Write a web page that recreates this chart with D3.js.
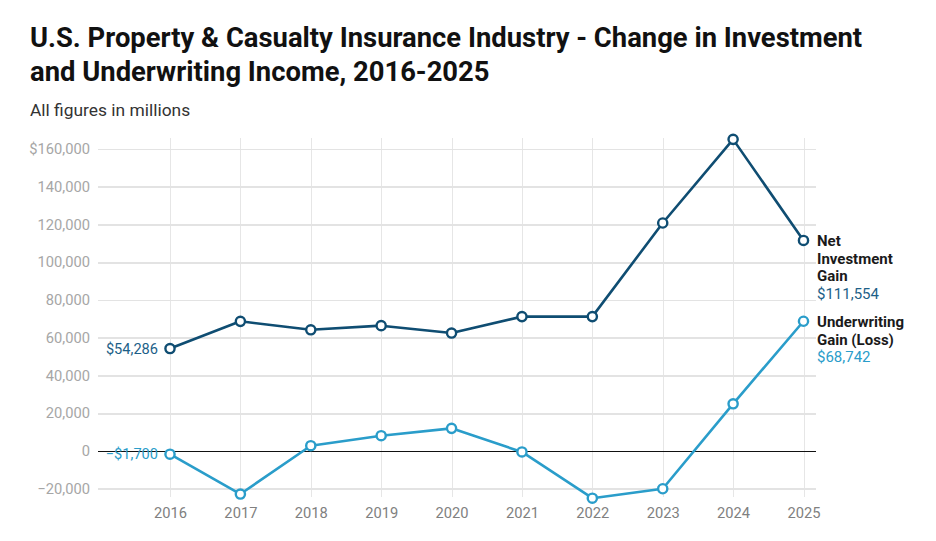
<!DOCTYPE html>
<html>
<head>
<meta charset="utf-8">
<script src="https://cdn.jsdelivr.net/npm/d3@7"></script>
<style>
  body { margin: 0; background: #fff; font-family: Roboto, sans-serif; }
  .grid line { shape-rendering: crispEdges; }
</style>
</head>
<body>
<div id="chart"></div>
<script>
// Chart data (millions of dollars)
var years = [2016, 2017, 2018, 2019, 2020, 2021, 2022, 2023, 2024, 2025];
var netInvestment = [54286, 68700, 64200, 66400, 62500, 71200, 71200, 120800, 165100, 111554];
var underwriting = [-1700, -22800, 2800, 8100, 12000, -500, -25000, -20000, 25000, 68742];
var yTicks = [-20000, 0, 20000, 40000, 60000, 80000, 100000, 120000, 140000, 160000];
var seriesNames = [["Net", "Investment", "Gain"], ["Underwriting", "Gain (Loss)"]];

var width = 936, height = 541;

var svg = d3.select('#chart')
            .append('svg')
            .attr('width', width)
            .attr('height', height);

// Title and subtitle
var title = svg.append('text')
               .attr('x', 30)
               .attr('font-size', 27.4)
               .attr('font-weight', 700)
               .attr('fill', '#111');
title.append('tspan').attr('x', 30).attr('y', 47)
     .text('U.S. Property & Casualty Insurance Industry - Change in Investment');
title.append('tspan').attr('x', 30).attr('y', 81)
     .text('and Underwriting Income, 2016-2025');

svg.append('text')
   .attr('x', 30)
   .attr('y', 116)
   .attr('font-size', 17.4)
   .attr('fill', '#333')
   .text('All figures in millions');

// Scales
var x = d3.scaleLinear()
          .domain([2016, 2025])
          .range([170, 803.5]);

var y = d3.scaleLinear()
          .domain([-20000, 160000])
          .range([488.75, 149]);

var gridLeft = 98, gridRight = 816, gridTop = 138, gridBottom = 497;

// Vertical gridlines
svg.append('g')
   .attr('class', 'grid')
   .selectAll('line')
   .data(years)
   .enter().append('line')
     .attr('x1', function(d) { return Math.round(x(d)) + 0.5; })
     .attr('x2', function(d) { return Math.round(x(d)) + 0.5; })
     .attr('y1', gridTop)
     .attr('y2', gridBottom)
     .attr('stroke', '#e6e6e6')
     .attr('stroke-width', 1);

// Horizontal gridlines + y axis labels
var y_axis = d3.axisLeft(y)
               .tickValues(yTicks)
               .tickSizeInner(-(gridRight - gridLeft))
               .tickSizeOuter(0)
               .tickPadding(8)
               .tickFormat(function(d) {
                 var s = d3.format(',')(Math.abs(d));
                 if (d === 160000) return '$' + s;
                 return d < 0 ? '\u2212' + s : s;
               });

var yg = svg.append('g')
            .attr('class', 'grid')
            .attr('transform', 'translate(' + gridLeft + ',0)')
            .call(y_axis);
yg.select('.domain').remove();
yg.selectAll('.tick line')
  .attr('stroke', function(d) { return d === 0 ? '#111' : '#e3e3e3'; })
  .attr('stroke-width', function(d) { return d === 0 ? 1 : 1.6; });
yg.selectAll('.tick text')
  .attr('font-family', 'Roboto, sans-serif')
  .attr('font-size', 14.7)
  .attr('fill', '#a6a6a6');

// X axis labels
var x_axis = d3.axisBottom(x)
               .tickValues(years)
               .tickFormat(d3.format('d'))
               .tickSize(0)
               .tickPadding(0);

var xg = svg.append('g')
            .attr('transform', 'translate(0,508)')
            .call(x_axis);
xg.select('.domain').remove();
xg.selectAll('.tick text')
  .attr('font-family', 'Roboto, sans-serif')
  .attr('font-size', 14.7)
  .attr('fill', '#808080');

// Lines
var series = [
  { values: netInvestment, color: '#0f4d72', valueColor: '#1d5f88', names: seriesNames[0] },
  { values: underwriting, color: '#2a9dca', valueColor: '#2a9dca', names: seriesNames[1] }
];

var line = d3.line()
             .curve(d3.curveLinear)
             .x(function(d, i) { return x(years[i]); })
             .y(function(d) { return y(d); });

series.forEach(function(s) {
  svg.append('path')
     .attr('d', line(s.values))
     .attr('fill', 'none')
     .attr('stroke', s.color)
     .attr('stroke-width', 2.6)
     .attr('stroke-linejoin', 'round');

  svg.append('g')
     .selectAll('circle')
     .data(s.values)
     .enter().append('circle')
       .attr('cx', function(d, i) { return x(years[i]); })
       .attr('cy', function(d) { return y(d); })
       .attr('r', 4.6)
       .attr('fill', '#fff')
       .attr('stroke', s.color)
       .attr('stroke-width', 2.4);
});

// Start labels
var fmtMoney = function(v) {
  return (v < 0 ? '\u2212' : '') + '$' + d3.format(',')(Math.abs(v));
};

series.forEach(function(s) {
  svg.append('text')
     .attr('x', x(years[0]) - 12)
     .attr('y', y(s.values[0]) + 5)
     .attr('text-anchor', 'end')
     .attr('font-size', 14.6)
     .attr('fill', s.valueColor)
     .text(fmtMoney(s.values[0]));
});

// End labels
var last = years.length - 1;
var endLabels = [
  { s: series[0], y0: 246 },
  { s: series[1], y0: 327 }
];
endLabels.forEach(function(l) {
  var t = svg.append('text')
             .attr('x', 817)
             .attr('font-size', 15);
  l.s.names.forEach(function(n, i) {
    t.append('tspan')
     .attr('x', 817)
     .attr('y', l.y0 + i * 17.7)
     .attr('font-weight', 700)
     .attr('fill', '#1a1a1a')
     .text(n);
  });
  t.append('tspan')
   .attr('x', 817)
   .attr('y', l.y0 + l.s.names.length * 17.7)
   .attr('fill', l.s.valueColor)
   .text(fmtMoney(l.s.values[last]));
});
</script>
</body>
</html>
